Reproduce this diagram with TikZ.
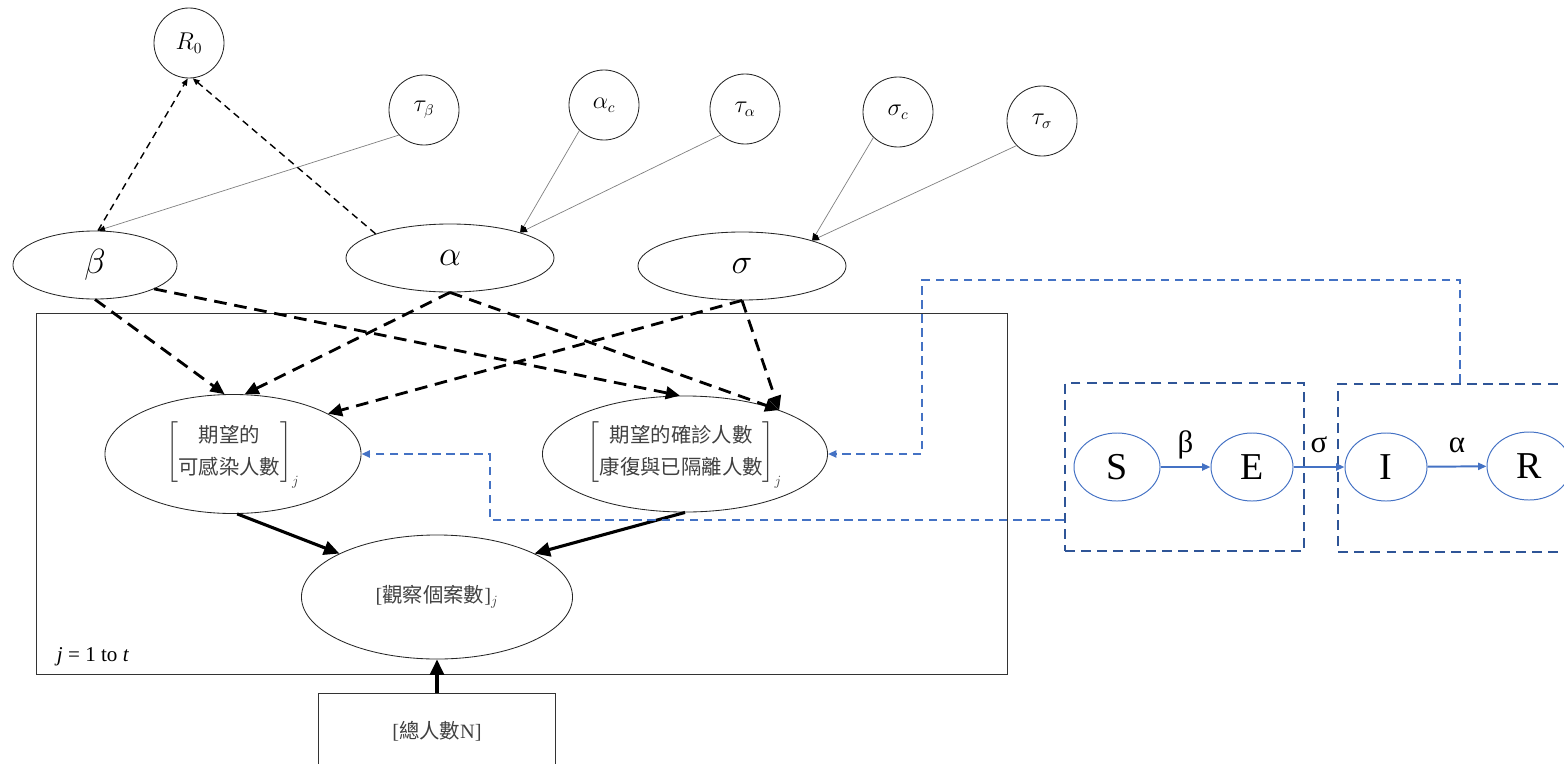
\documentclass[tikz,border=0pt]{standalone}
\usepackage{amsmath}
\usepackage{fontspec}
\setmainfont{Liberation Serif}
\newfontfamily\cjk{Noto Sans CJK TC}
\usetikzlibrary{shapes.geometric, arrows.meta}
\definecolor{seirblue}{HTML}{4472C4}
\definecolor{boxblue}{HTML}{2F5597}

\begin{document}
\begin{tikzpicture}[x=0.025cm, y=-0.025cm,
    hyper/.style={draw=black!85, circle, line width=0.6pt, minimum size=1.75cm, inner sep=0pt, font=\fontsize{16}{18}\selectfont},
    latent/.style={draw=black!85, ellipse, line width=0.6pt, inner sep=0pt, minimum width=5.2cm, minimum height=1.7cm, font=\fontsize{24}{28}\selectfont},
    expect/.style={draw=black!85, ellipse, line width=0.6pt, inner sep=0pt, text=black!75, font=\fontsize{14.5}{23}\selectfont},
    prior/.style={-{Triangle[length=5pt,width=4pt,black]}, draw=black!50, line width=0.5pt},
    rzero/.style={-{Triangle[length=5pt,width=4pt]}, dash pattern=on 5pt off 3.5pt, line width=1pt},
    dep/.style={-{Triangle[length=10pt,width=9pt]}, dash pattern=on 9pt off 5.5pt, line width=2pt},
    obsarr/.style={-{Triangle[length=11pt,width=10pt]}, line width=2.2pt},
    comp/.style={draw=seirblue, ellipse, line width=0.7pt, inner sep=0pt, minimum height=1.7cm, font=\fontsize{27}{30}\selectfont},
    rate/.style={above=4pt, text height=0.7em, text depth=0.2em, font=\fontsize{22}{24}\selectfont},
    flow/.style={-{Triangle[length=6pt,width=5pt]}, draw=seirblue, line width=1.4pt},
    feedback/.style={-{Triangle[length=6pt,width=5pt]}, draw=seirblue, dash pattern=on 6pt off 4pt, line width=1.4pt},
    compbox/.style={draw=boxblue, dash pattern=on 7pt off 4.5pt, line width=1.8pt, minimum height=4.2cm}]

    \useasboundingbox (0,0) rectangle (1564,763);

    % hyperpriors
    \node[hyper] (R0) at (189,43) {$R_0$};
    \node[hyper] (taub) at (424,110) {$\tau_\beta$};
    \node[hyper] (alphac) at (604,105) {$\alpha_c$};
    \node[hyper] (taua) at (745,109) {$\tau_\alpha$};
    \node[hyper] (sigmac) at (898,112) {$\sigma_c$};
    \node[hyper] (taus) at (1042,121) {$\tau_\sigma$};

    \node[latent, minimum width=4.1cm] (beta) at (95,265) {$\beta$};
    \node[latent] (alpha) at (450,258) {$\alpha$};
    \node[latent] (sigma) at (742,266) {$\sigma$};

    % plate
    \draw[black!80, line width=0.7pt] (36,313) rectangle (1007,674);
    \node[anchor=west, font=\fontsize{15}{17}\selectfont] (plate) at (52,657) {\textit{j} = 1 to \textit{t}};

    \node[expect, minimum width=6.4cm, minimum height=2.975cm] (lexp) at (233,454)
        {$\left[\begin{tabular}{@{}c@{}}{\cjk 期望的}\\{\cjk 可感染人數}\end{tabular}\right]_j$};
    \node[expect, minimum width=7.125cm, minimum height=2.9cm] (rexp) at (685,454)
        {$\left[\begin{tabular}{@{}c@{}}{\cjk 期望的確診人數}\\{\cjk 康復與已隔離人數}\end{tabular}\right]_j$};
    \node[expect, minimum width=6.775cm, minimum height=3.1cm] (obs) at (437,597) {[{\cjk 觀察個案數}]$_j$};
    \node[draw=black!80, line width=0.7pt, minimum width=5.9cm, minimum height=1.9cm, text=black!75, font=\fontsize{14.5}{16}\selectfont] (total) at (437,731) {[{\cjk 總人數}N]};

    \draw[prior] (taub.-135) -- (beta.85);
    \draw[prior] (alphac.-134) -- (alpha.20);
    \draw[prior] (taua.-133) -- (alpha.20);
    \draw[prior] (sigmac.-134) -- (sigma.20);
    \draw[prior] (taus.-136) -- (sigma.20);
    \draw[rzero] (beta.85) -- (R0.-92);
    \draw[rzero] (alpha.162) -- (R0.-84);

    \draw[dep] (beta.-90) -- (lexp.98);
    \draw[dep] (beta.-22) -- (rexp.95);
    \draw[dep] (alpha.-90) -- (lexp.79);
    \draw[dep] (alpha.-90) -- (rexp.25);
    \draw[dep] (sigma.-90) -- (lexp.23);
    \draw[dep] (sigma.-90) -- (rexp.25);

    \draw[obsarr] (lexp.-86) -- (obs.156);
    \draw[obsarr] (rexp.-90) -- (obs.24);
    \draw[obsarr] (total.north) -- (obs.south);

    % SEIR compartments
    \node[compbox, minimum width=5.975cm] (sebox) at (1184.5,467) {};
    \node[compbox, minimum width=6.1cm] (irbox) at (1460,468) {};
    \node[comp, minimum width=2.15cm] (S) at (1117,467) {S};
    \node[comp, minimum width=2.05cm] (E) at (1252,467) {E};
    \node[comp, minimum width=2.05cm] (I) at (1386,467) {I};
    \node[comp, minimum width=2.1cm] (R) at (1529,466) {R};

    \draw[flow] (S) -- node[rate] {β} (E);
    \draw[flow] (E) -- node[rate] {σ} (I);
    \draw[flow] (I) -- node[rate] {α} (R);

    \draw[feedback] (irbox.north) |- (922,280) |- (rexp.east);
    \draw[feedback] ([yshift=-1.325cm]sebox.west) -| (490,454) -- (lexp.east);
\end{tikzpicture}
\end{document}
